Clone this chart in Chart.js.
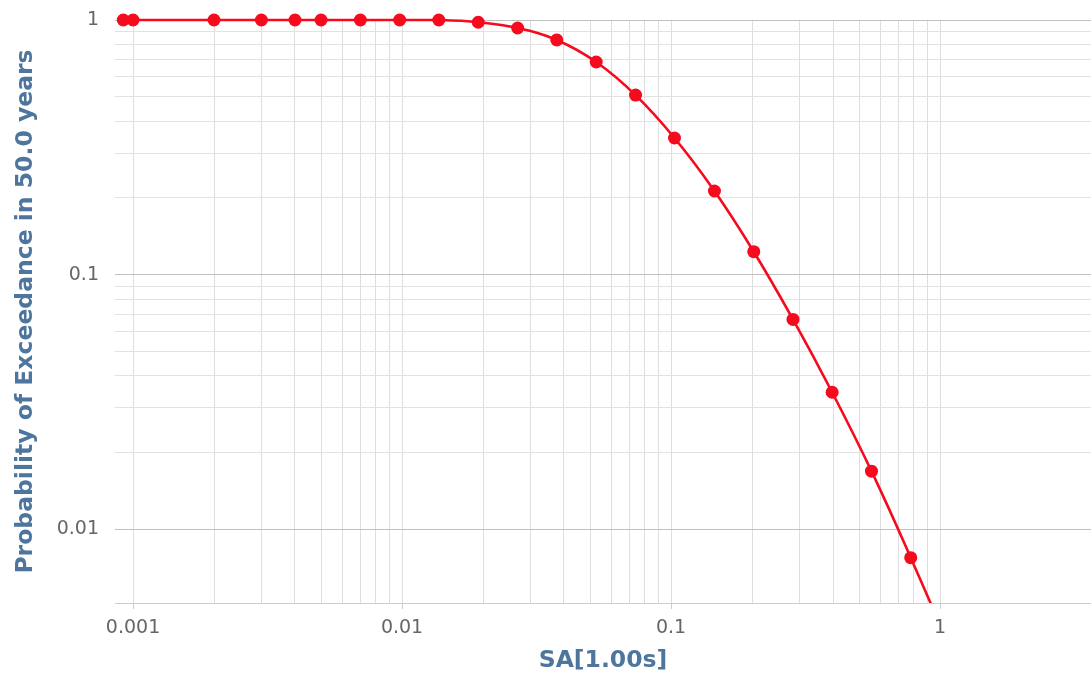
<!DOCTYPE html>
<html>
<head>
<meta charset="utf-8">
<script src="https://cdn.jsdelivr.net/npm/chart.js@4"></script>
<style>
	html, body { margin: 0; padding: 0; background: #fff; }
	#wrap { width: 1091px; height: 676px; position: relative; }
</style>
</head>
<body>
<div id="wrap"><canvas id="hazard_chart"></canvas></div>
<script>
// values
const saValues = [0.00092, 0.001, 0.002, 0.003, 0.004, 0.005, 0.007, 0.0098, 0.0137, 0.0192, 0.0269, 0.0376, 0.0527, 0.0738, 0.103, 0.145, 0.203, 0.284, 0.397, 0.556, 0.778, 1.09];
const exceedance = [1, 1, 1, 1, 1, 1, 1, 1, 1, 0.98, 0.93, 0.835, 0.684, 0.507, 0.344, 0.213, 0.123, 0.0667, 0.0345, 0.0169, 0.00773, 0.0034];
const xTickLabels = ['0.001', '0.01', '0.1', '1'];
const yTickLabels = ['0.01', '0.1', '1'];

const titleColor = '#4d759e';
const labelColor = '#666666';
const curveColor = '#f50a1e';

// 1..9 ticks for each decade, up to the last labelled decade
function decade_ticks(labels) {
	const decades = labels.map(Number);
	const ticks = [];
	decades.forEach((d, i) => {
		const steps = i === decades.length - 1 ? 1 : 9;
		for (let k = 1; k <= steps; k++) {
			ticks.push({value: +(k * d).toPrecision(6)});
		}
	});
	return ticks;
}

function is_decade(value, labels) {
	return labels.some(l => Math.abs(value / Number(l) - 1) < 1e-9);
}

function label_for(value, labels) {
	const found = labels.find(l => Math.abs(value / Number(l) - 1) < 1e-9);
	return found === undefined ? '' : found;
}

// no extra room for edge labels, the plot runs to the canvas edge
function no_edge_padding(scale) {
	scale.paddingLeft = 0;
	scale.paddingRight = 0;
	scale.paddingTop = 0;
	scale.paddingBottom = 0;
}

const points = saValues.map((x, i) => ({x: x, y: exceedance[i]}));

const tickFont = {family: 'DejaVu Sans', size: 19};
const titleFont = {family: 'DejaVu Sans', size: 23.5, weight: 'bold'};

new Chart(document.getElementById('hazard_chart'), {
	type: 'line',
	data: {
		datasets: [{
			data: points,
			borderColor: curveColor,
			backgroundColor: curveColor,
			borderWidth: 2.6,
			pointRadius: 6.5,
			pointBorderWidth: 0,
			pointBackgroundColor: curveColor,
			tension: 0.4,
			clip: {left: 10, top: 10, right: 0, bottom: 0}
		}]
	},
	options: {
		responsive: true,
		maintainAspectRatio: false,
		animation: false,
		layout: {autoPadding: false, padding: {top: 20, right: 0, left: 0, bottom: 0}},
		plugins: {
			legend: {display: false},
			tooltip: {enabled: false}
		},
		scales: {
			x: {
				type: 'logarithmic',
				min: 0.000857,
				max: 3.64,
				afterBuildTicks: scale => { scale.ticks = decade_ticks(xTickLabels); },
				afterFit: scale => { scale.height = 73; no_edge_padding(scale); },
				ticks: {
					autoSkip: false,
					maxRotation: 0,
					padding: 8,
					color: labelColor,
					font: tickFont,
					callback: value => label_for(value, xTickLabels)
				},
				grid: {
					color: '#dedede',
					lineWidth: 1,
					drawTicks: true,
					tickLength: 6,
					tickColor: ctx => (ctx.tick && is_decade(ctx.tick.value, xTickLabels)) ? '#c0d0e0' : 'rgba(0,0,0,0)'
				},
				border: {display: true, color: '#c0d0e0', width: 1},
				title: {
					display: true,
					text: 'SA[1.00s]',
					color: titleColor,
					font: titleFont,
					padding: {top: 0, bottom: 1}
				}
			},
			y: {
				type: 'logarithmic',
				min: 0.00513,
				max: 1,
				afterBuildTicks: scale => { scale.ticks = decade_ticks(yTickLabels); },
				afterFit: scale => { scale.width = 115; no_edge_padding(scale); },
				ticks: {
					autoSkip: false,
					padding: 16,
					color: labelColor,
					font: tickFont,
					callback: value => label_for(value, yTickLabels)
				},
				grid: {
					color: ctx => (ctx.tick && is_decade(ctx.tick.value, yTickLabels)) ? '#c0c0c0' : '#e2e2e2',
					lineWidth: 1,
					drawTicks: false
				},
				border: {display: false},
				title: {
					display: true,
					text: 'Probability of Exceedance in 50.0 years',
					color: titleColor,
					font: titleFont,
					padding: {top: 12, bottom: 0}
				}
			}
		}
	}
});
</script>
</body>
</html>
